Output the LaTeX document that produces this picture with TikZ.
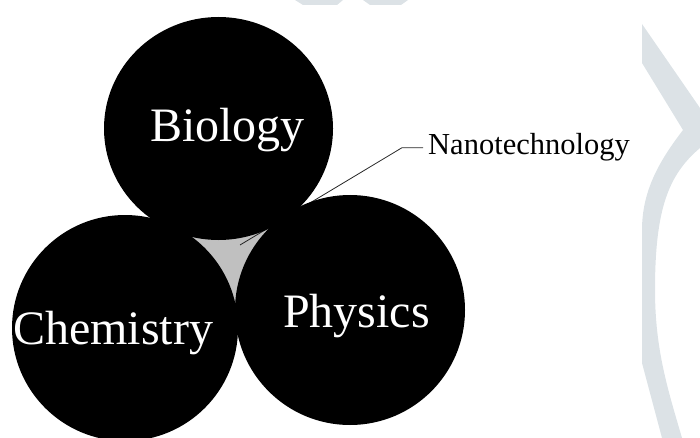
\documentclass[tikz,border=0pt]{standalone}
\usepackage{fontspec}
\setmainfont{Liberation Serif}
\usepackage{xcolor}
\usepackage{tikz}
\usetikzlibrary{positioning, shapes.geometric}
\definecolor{wmark}{HTML}{DCE2E6}
\definecolor{gapgray}{HTML}{C0C0C0}
\tikzset{
  disc/.style={circle, fill=black, inner sep=0pt},
  subj/.style={text=white, font=\fontsize{48}{50}\selectfont, inner sep=0pt, anchor=base},
  tag/.style={font=\fontsize{30.5}{32}\selectfont, inner xsep=5pt, inner ysep=0pt, anchor=base west},
  lead/.style={draw=black!85, line width=0.8pt},
}

\begin{document}
\begin{tikzpicture}[x=1pt, y=-1pt]
  \useasboundingbox (0,0) rectangle (700,438);
  % faint shapes at the page edge
  \fill[wmark] (295,0) -- (343,0) -- (337,5) -- (303,5) -- cycle;
  \fill[wmark] (363,0) -- (408,0) -- (401,5) -- (370,5) -- cycle;
  \fill[wmark] (642,24) -- (700,108) -- (700,148)
    .. controls (668,175) and (655,210) .. (655,290)
    .. controls (655,350) and (668,390) .. (682,438) -- (662,438) -- (642,363) -- (642,230)
    .. controls (642,190) and (660,160) .. (683,130) -- (642,63) -- cycle;

  \node[tag] (nanolbl) at (423,155) {Nanotechnology};

  \coordinate (cbio)  at (218.5,128.5);
  \coordinate (cchem) at (125,328);
  \coordinate (cphys) at (350,310);

  % gap between the three discs
  \fill[gapgray] (cbio) -- (cchem) -- (cphys) -- cycle;
  \coordinate (nano) at (240,245);
  \coordinate[left=21pt of nanolbl.west] (bend);
  \draw[lead] (nano) -- (bend) -- (nanolbl.west);

  \node[disc, ellipse, minimum width=229pt, minimum height=223pt] (bio) at (cbio) {};
  \node[disc, minimum size=226pt] (chem) at (cchem) {};
  \node[disc, minimum size=230pt] (phys) at (cphys) {};

  \node[subj] (biotxt)  at (227.5,142) {Biology};
  \node[subj] (chemtxt) at (113,344)   {Chemistry};
  \node[subj] (phystxt) at (356.5,327) {Physics};
\end{tikzpicture}
\end{document}
